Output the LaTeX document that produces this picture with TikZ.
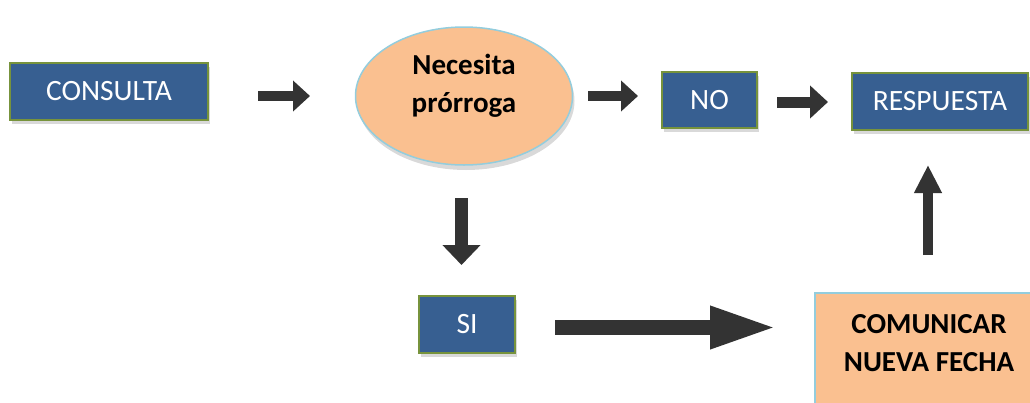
\documentclass[tikz,border=0pt]{standalone}
\usepackage{fontspec}
\setmainfont{Carlito}
\usetikzlibrary{arrows.meta,shapes.geometric,shadows}
\definecolor{boxblue}{HTML}{375F91}
\definecolor{boxgreen}{HTML}{77933C}
\definecolor{peach}{HTML}{FAC090}
\definecolor{lblue}{HTML}{93CDDD}
\definecolor{arrowgrey}{HTML}{333333}
\tikzset{
  bluebox/.style={draw=boxgreen, line width=1.5pt, fill=boxblue, text=white, inner sep=0pt,
    font=\fontsize{29.5}{34}\selectfont,
    drop shadow={opacity=0.3, shadow xshift=2pt, shadow yshift=-4pt}},
  peachshape/.style={draw=lblue, line width=1.5pt, fill=peach,
    drop shadow={opacity=0.3, shadow xshift=2pt, shadow yshift=-5pt}},
  boldtext/.style={align=center, font=\bfseries\fontsize{29}{38.5}\selectfont, text=black},
}
\begin{document}
\begin{tikzpicture}[x=1pt,y=-1pt]
\useasboundingbox (0,0) rectangle (1030,402);
\begin{scope}
\clip (0,0) rectangle (1030,402);
% nodes
\node[bluebox, minimum width=198pt, minimum height=57pt] (consulta) at (109,91.5) {CONSULTA};
\node[peachshape, ellipse, minimum width=217pt, minimum height=138pt] (nec) at (464,96) {};
\node[boldtext] (nectext) at (464,86) {Necesita\\prórroga};
\node[bluebox, minimum width=95pt, minimum height=56pt] (no) at (709.5,100) {NO};
\node[bluebox, minimum width=176pt, minimum height=57pt] (resp) at (940,101.5) {RESPUESTA};
\node[bluebox, minimum width=96pt, minimum height=57pt] (si) at (467,324.5) {SI};
\node[peachshape, rectangle, minimum width=230pt, minimum height=127pt] (com) at (930,356.5) {};
\node[boldtext] (comtext) at (929,343) {COMUNICAR\\NUEVA FECHA};
% arrow coordinates
\coordinate (a1s) at (258,96); \coordinate (a1e) at (310,96);
\coordinate (a2s) at (588,96); \coordinate (a2e) at (638,96);
\coordinate (a3s) at (777,102); \coordinate (a3e) at (828,102);
\coordinate (a4s) at (461.5,198); \coordinate (a4e) at (461.5,265);
\coordinate (a5s) at (555,327.5); \coordinate (a5e) at (777,327.5);
\coordinate (a6s) at (928,255); \coordinate (a6e) at (928,165);
% connectors (block arrows)
\draw[arrowgrey, line width=10pt, -{Triangle[length=17pt,width=30pt]}] (a1s) -- (a1e);
\draw[arrowgrey, line width=10pt, -{Triangle[length=17pt,width=30pt]}] (a2s) -- (a2e);
\draw[arrowgrey, line width=11pt, -{Triangle[length=18pt,width=32pt]}] (a3s) -- (a3e);
\draw[arrowgrey, line width=13pt, -{Triangle[length=20pt,width=37pt]}] (a4s) -- (a4e);
\draw[arrowgrey, line width=15pt, -{Triangle[length=67pt,width=39pt]}] (a5s) -- (a5e);
\draw[arrowgrey, line width=10pt, -{Triangle[length=28pt,width=26pt]}] (a6s) -- (a6e);
\end{scope}
\end{tikzpicture}
\end{document}
